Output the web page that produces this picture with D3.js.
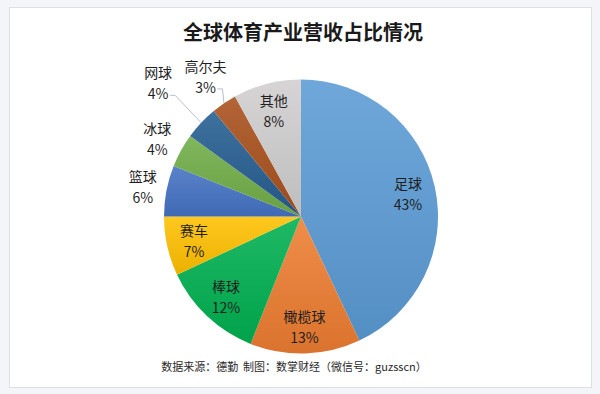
<!DOCTYPE html>
<html>
<head>
<meta charset="utf-8">
<script src="https://cdn.jsdelivr.net/npm/d3@7"></script>
<style>
body { margin: 0; background: #f3f5f8; font-family: "Noto Sans CJK SC", "Noto Sans", sans-serif; }
svg { display: block; }
</style>
</head>
<body>
<div id="container"><svg></svg></div>
<script>
let width = 600, height = 394;
let cx = 301, cy = 216.5, radius = 137;

let title_text = '全球体育产业营收占比情况';
let source_text = '数据来源：德勤  制图：数掌财经（微信号：guzsscn）';

// 从12点方向顺时针
let categories = ['足球', '橄榄球', '棒球', '赛车', '篮球', '冰球', '网球', '高尔夫', '其他'];
let shares = [43, 13, 12, 7, 6, 4, 4, 3, 8];
let colors = ['#5b9bd5', '#ed7d31', '#00b050', '#ffc000', '#4472c4', '#70ad47', '#255e91', '#a9501c', '#d0cece'];

let inside_min = 7; // 小于这个比例的标签放到饼外面

function draw_frame(svg) {
    svg.append('rect')
        .attr('x', 9.5).attr('y', 7.5)
        .attr('width', 582).attr('height', 380)
        .attr('fill', '#fff')
        .attr('stroke', '#dde1e6');

    svg.append('text')
        .attr('x', 303).attr('y', 31)
        .attr('text-anchor', 'middle')
        .attr('dominant-baseline', 'central')
        .attr('font-size', 20)
        .attr('font-weight', 'bold')
        .attr('fill', '#1a1a1a')
        .text(title_text);

    svg.append('text')
        .attr('x', 294).attr('y', 366)
        .attr('text-anchor', 'middle')
        .attr('dominant-baseline', 'central')
        .attr('font-size', 11)
        .style('white-space', 'pre')
        .attr('fill', '#2a2a2a')
        .text(source_text);
}

function draw_pie(svg) {
    let pie = d3.pie().sort(null).value(d => d);
    let arcs = pie(shares);
    let arc = d3.arc().innerRadius(0).outerRadius(radius);

    // 每块扇形自己的上下渐变（仿Excel）
    let defs = svg.append('defs');
    colors.forEach((c, i) => {
        let g = defs.append('linearGradient')
            .attr('id', 'grad' + i)
            .attr('x1', 0).attr('y1', 0).attr('x2', 0).attr('y2', 1);
        g.append('stop').attr('offset', '0%').attr('stop-color', d3.interpolateRgb(c, '#fff')(0.12));
        g.append('stop').attr('offset', '100%').attr('stop-color', d3.interpolateRgb(c, '#000')(0.08));
    });

    let g = svg.append('g').attr('transform', `translate(${cx},${cy})`);
    g.selectAll('path.slice')
        .data(arcs)
        .join('path')
        .attr('class', 'slice')
        .attr('d', arc)
        .attr('fill', (d, i) => `url(#grad${i})`);

    draw_labels(g, arcs);
}

function draw_labels(g, arcs) {
    let mid = d => (d.startAngle + d.endAngle) / 2;
    let polar = (a, r) => [r * Math.sin(a), -r * Math.cos(a)];
    let labels = arcs.map((d, i) => {
        let name = categories[i], pct = shares[i] + '%';
        return {
            name: name, pct: pct, a: mid(d),
            w: Math.max(name.length * 14, pct.length * 8 + 4),
            outside: shares[i] < inside_min
        };
    });

    labels.filter(d => !d.outside).forEach(d => { d.r = radius * 0.8; });

    // 饼外面的标签：从上往下放，沿角度往外推，直到不压住饼也不和别的标签重叠
    let placed = [];
    labels.filter(d => d.outside)
        .sort((a, b) => -Math.cos(a.a) - -Math.cos(b.a))
        .forEach(d => {
            let r = radius + 24, box;
            while (r < radius + 120) {
                let p = polar(d.a, r);
                box = [p[0] - d.w / 2 - 3, p[1] - 21, p[0] + d.w / 2 + 3, p[1] + 21];
                let nx = Math.max(box[0], Math.min(0, box[2]));
                let ny = Math.max(box[1], Math.min(0, box[3]));
                let on_pie = Math.hypot(nx, ny) < radius + 2;
                let hit = placed.some(b => box[0] < b[2] && box[2] > b[0] && box[1] < b[3] && box[3] > b[1]);
                if (!on_pie && !hit) break;
                r += 1;
            }
            placed.push([box[0] - 6, box[1], box[2] + 6, box[3]]);
            d.r = r;
        });

    labels.forEach(d => { [d.x, d.y] = polar(d.a, d.r); });

    // 引导线
    let line = d3.line();
    g.selectAll('path.leader')
        .data(labels.filter(d => d.outside && d.r > radius + 31))
        .join('path')
        .attr('class', 'leader')
        .attr('fill', 'none')
        .attr('stroke', '#b4c0cf')
        .attr('stroke-width', 1)
        .attr('d', d => {
            let x0 = d.x + d.pct.length * 4 + 4, y0 = d.y + 13;
            let e = polar(d.a, radius);
            return line([[x0, y0], [x0 + 5, y0], e]);
        });

    let t = g.selectAll('text.label')
        .data(labels)
        .join('text')
        .attr('class', 'label')
        .attr('text-anchor', 'middle')
        .attr('font-size', 14)
        .attr('fill', '#1f1f1f');
    t.append('tspan')
        .attr('x', d => d.x)
        .attr('y', d => d.y - 10)
        .attr('dominant-baseline', 'central')
        .text(d => d.name);
    t.append('tspan')
        .attr('x', d => d.x)
        .attr('y', d => d.y + 11)
        .attr('dominant-baseline', 'central')
        .text(d => d.pct);
}

function main() {
    let svg = d3.select('#container').select('svg')
        .attr('width', width)
        .attr('height', height);
    draw_frame(svg);
    draw_pie(svg);
}

main();
</script>
</body>
</html>
